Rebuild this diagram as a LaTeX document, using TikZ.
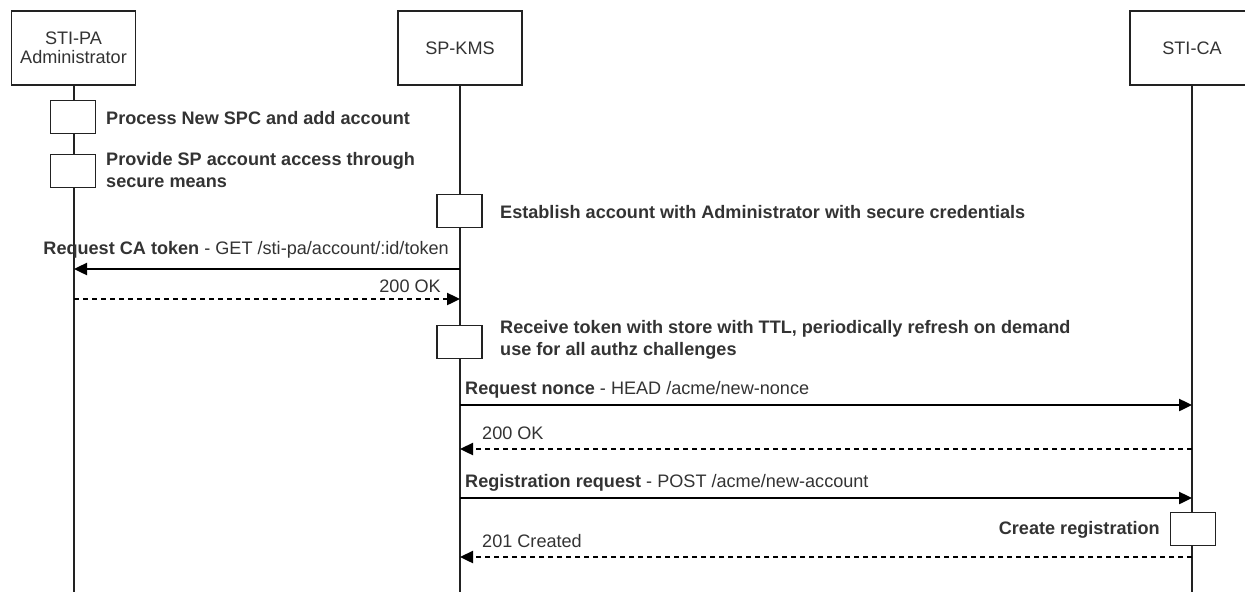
\documentclass[tikz,border=0pt]{standalone}
\usepackage{fontspec}
\setmainfont{Liberation Sans}
\usetikzlibrary{arrows.meta}
\definecolor{ink}{HTML}{222222}
\definecolor{txt}{HTML}{333333}
\begin{document}
\begin{tikzpicture}[x=1pt,y=-1pt,
  every node/.style={font=\fontsize{18.1}{22}\selectfont, text=txt, inner sep=0pt},
  actor/.style={draw=ink, line width=1.2pt, fill=white, minimum width=124pt, minimum height=74pt, align=center},
  lifeline/.style={draw=ink, line width=1.1pt},
  activation/.style={draw=ink, line width=1.1pt, fill=white, minimum width=45pt, minimum height=33pt},
  note/.style={font=\fontsize{18.1}{22.5}\selectfont\bfseries, align=left},
  msg/.style={draw=black, line width=2.4pt, -{Triangle[length=13pt,width=12pt]}},
  reply/.style={msg, dash pattern=on 5pt off 4pt},
]
\useasboundingbox (0,0) rectangle (1245,592);

% participants
\node[actor] (adm) at (73.5,48) {STI-PA\\[-3pt]Administrator};
\node[actor] (kms) at (460,48) {SP-KMS};
\node[actor] (ca)  at (1192,48) {STI-CA};

% lifelines
\coordinate (adm-end) at (74,592);
\coordinate (kms-end) at (460,592);
\coordinate (ca-end)  at (1192,592);
\draw[lifeline] (adm.south -| adm-end) -- (adm-end);
\draw[lifeline] (kms.south -| kms-end) -- (kms-end);
\draw[lifeline] (ca.south -| ca-end) -- (ca-end);

% activations and their notes
\node[activation] (a1) at (73,117) {};
\node[note, anchor=west] (n1) at (106,118) {Process New SPC and add account};
\node[activation] (a2) at (73,171) {};
\node[note, anchor=north west] (n2) at (106,152) {Provide SP account access through\\secure means};
\node[activation] (k1) at (459.5,211) {};
\node[note, anchor=west] (n3) at (500,212) {Establish account with Administrator with secure credentials};
\node[activation] (k2) at (459.5,342) {};
\node[note, anchor=north west] (n4) at (500,320) {Receive token with store with TTL, periodically refresh on demand\\use for all authz challenges};
\node[activation] (c1) at (1193,529) {};
\node[note, anchor=east] (n5) at (1160,530) {Create registration};

% message end points on the lifelines
\coordinate (kms-m1) at (460,269);  \coordinate (adm-m1) at (74,269);
\coordinate (adm-m2) at (74,299);   \coordinate (kms-m2) at (460,299);
\coordinate (kms-m3) at (460,405);  \coordinate (ca-m3)  at (1192,405);
\coordinate (ca-m4)  at (1192,449); \coordinate (kms-m4) at (460,449);
\coordinate (kms-m5) at (460,498);  \coordinate (ca-m5)  at (1192,498);
\coordinate (ca-m6)  at (1192,557); \coordinate (kms-m6) at (460,557);

% messages
\draw[msg]   (kms-m1) -- (adm-m1);
\node[anchor=east] (l1) at (449,250) {\textbf{Request CA token} - GET /sti-pa/account/:id/token};
\draw[reply] (adm-m2) -- (kms-m2);
\node[anchor=east] (l2) at (441,286) {200 OK};
\draw[msg]   (kms-m3) -- (ca-m3);
\node[anchor=west] (l3) at (465,390) {\textbf{Request nonce} - HEAD /acme/new-nonce};
\draw[reply] (ca-m4) -- (kms-m4);
\node[anchor=west] (l4) at (482,433) {200 OK};
\draw[msg]   (kms-m5) -- (ca-m5);
\node[anchor=west] (l5) at (465,483) {\textbf{Registration request} - POST /acme/new-account};
\draw[reply] (ca-m6) -- (kms-m6);
\node[anchor=west] (l6) at (482,541) {201 Created};
\end{tikzpicture}
\end{document}
